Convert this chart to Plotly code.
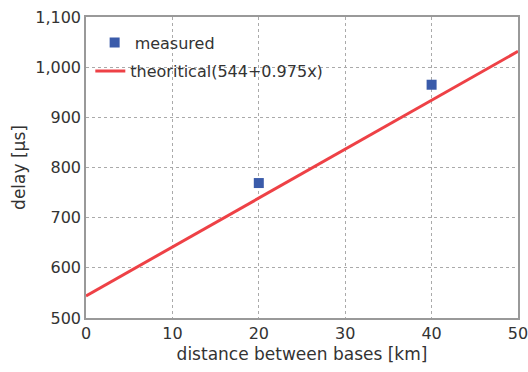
import plotly.graph_objects as go

# Data
measured_x = [20, 40]
measured_y = [769, 965]
theory_x = [0, 50]
theory_y = [544, 1031.5]
x_ticks = [0, 10, 20, 30, 40, 50]
y_ticks = [500, 600, 700, 800, 900, 1000, 1100]
y_tick_labels = ["500", "600", "700", "800", "900", "1,000", "1,100"]

fig = go.Figure()
fig.add_trace(go.Scatter(
    x=measured_x, y=measured_y, mode="markers", name="measured",
    marker=dict(symbol="square", size=10, color="#3A5BAA"),
    legend="legend",
))
fig.add_trace(go.Scatter(
    x=theory_x, y=theory_y, mode="lines", name="theoritical(544+0.975x)",
    line=dict(color="#EE4146", width=3),
    legend="legend2",
))

axis_common = dict(
    showline=True, linecolor="#999999", linewidth=1.5, mirror=True,
    showgrid=True, gridcolor="#aaaaaa", griddash="dot", gridwidth=1,
    zeroline=False, ticks="", tickfont=dict(size=16, color="#333333"),
    automargin=False, ticklabeloverflow="allow",
)

legend_common = dict(bgcolor="rgba(0,0,0,0)", font=dict(size=16, color="#333333"),
                     xanchor="left", yanchor="middle", itemwidth=30)

fig.update_layout(
    width=528, height=372,
    margin=dict(l=86, r=10, t=17, b=54),
    paper_bgcolor="white", plot_bgcolor="white",
    font=dict(family="DejaVu Sans", color="#333333"),
    showlegend=True,
    legend=dict(x=0.02, y=0.915, **legend_common),
    legend2=dict(x=0.01, y=0.82, **legend_common),
    xaxis=dict(range=[0, 50], tickvals=x_ticks,
               title=dict(text="distance between bases [km]", font=dict(size=17), standoff=6),
               **axis_common),
    yaxis=dict(range=[500, 1100], tickvals=y_ticks, ticktext=y_tick_labels,
               title=dict(text="delay [µs]", font=dict(size=17), standoff=5),
               **axis_common),
)

fig.write_html("out.html", config={"displayModeBar": False},
               post_script="document.body.style.margin='0';document.body.style.overflow='hidden';")
